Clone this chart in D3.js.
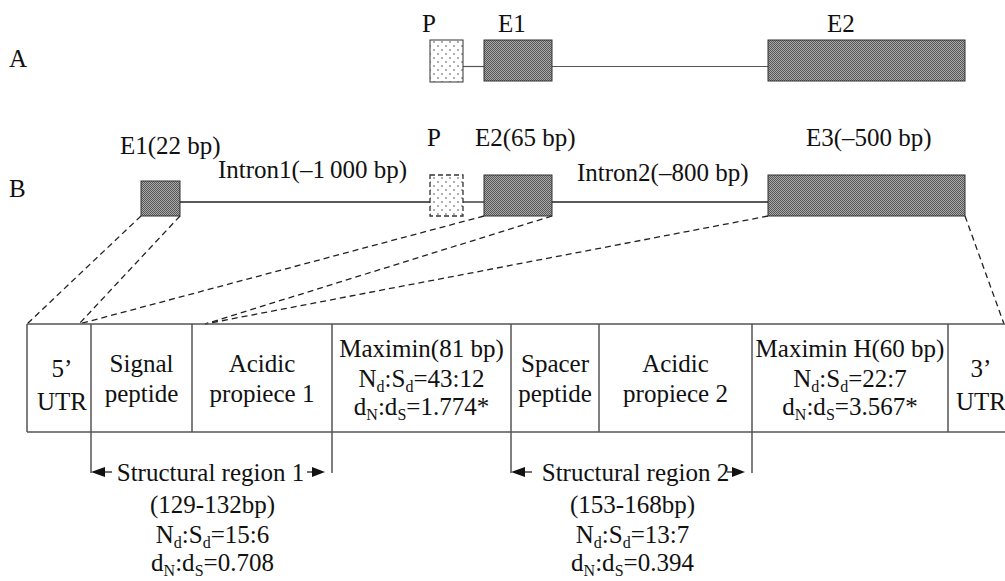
<!DOCTYPE html>
<html><head><meta charset="utf-8">
<script src="https://cdn.jsdelivr.net/npm/d3@7"></script>
<style>
html,body{margin:0;padding:0;background:#fff;}
svg{display:block;}
text{font-family:"Liberation Serif","Times New Roman",serif;fill:#111;}
</style>
</head><body>
<svg id="chart" width="1005" height="581"></svg>
<script>
// ---------- data (map units) ----------
const rowLabels = ["A", "B"];
// Gene A
const geneANames = ["P", "E1", "E2"];
const geneAStart = [430, 484, 768];
const geneAEnd   = [463, 552, 965];
const geneAType  = ["promoter", "exon", "exon"];
// Gene B
const geneBNames = ["E1(22 bp)", "P", "E2(65 bp)", "E3(–500 bp)"];
const geneBStart = [141, 430, 484, 768];
const geneBEnd   = [180, 463, 552, 965];
const geneBType  = ["exon", "promoterDashed", "exon", "exon"];
const intronNames = ["Intron1(–1\u2009000 bp)", "Intron2(–800 bp)"];
// transcript / precursor segments
const segmentLabels = [
  ["5’", "UTR"],
  ["Signal", "peptide"],
  ["Acidic", "propiece 1"],
  ["Maximin(81 bp)", "N_d:S_d=43:12", "d_N:d_S=1.774*"],
  ["Spacer", "peptide"],
  ["Acidic", "propiece 2"],
  ["Maximin H(60 bp)", "N_d:S_d=22:7", "d_N:d_S=3.567*"],
  ["3’", "UTR"]
];
const segmentBounds = [27, 91, 192, 332, 511, 599, 752, 948, 1015];
// mapping exon edges -> segment boundaries
const mapFrom = [141, 180, 484, 552, 768, 965];
const mapTo   = [27, 79, 79, 205, 205, 1004];
// structural regions
const regionNames = ["Structural region 1", "Structural region 2"];
const regionStart = [91, 511];
const regionEnd   = [332, 752];
const regionStats = [
  ["(129-132bp)", "N_d:S_d=15:6", "d_N:d_S=0.708"],
  ["(153-168bp)", "N_d:S_d=13:7", "d_N:d_S=0.394"]
];

// ---------- drawing ----------
const svg = d3.select("#chart");
const x = d3.scaleLinear().domain([0, 1005]).range([0, 1005]);
const FS = 25;

const defs = svg.append("defs");
const pat = defs.append("pattern").attr("id", "exonFill").attr("patternUnits", "userSpaceOnUse")
  .attr("width", 2).attr("height", 2);
pat.append("rect").attr("width", 2).attr("height", 2).attr("fill", "#ababab");
pat.append("rect").attr("width", 1).attr("height", 1).attr("fill", "#555");
pat.append("rect").attr("x", 1).attr("y", 1).attr("width", 1).attr("height", 1).attr("fill", "#555");

const dp = defs.append("pattern").attr("id", "dotFill").attr("patternUnits", "userSpaceOnUse")
  .attr("width", 8).attr("height", 8);
dp.append("rect").attr("width", 8).attr("height", 8).attr("fill", "#fff");
dp.append("circle").attr("cx", 2).attr("cy", 2).attr("r", 0.7).attr("fill", "#222");
dp.append("circle").attr("cx", 6).attr("cy", 6).attr("r", 0.7).attr("fill", "#222");

// helper for text with subscripts ("_x" marks subscript char)
function richText(sel, str, size) {
  const parts = [];
  let i = 0, buf = "";
  while (i < str.length) {
    if (str[i] === "_" && i + 1 < str.length) {
      if (buf) parts.push({t: buf, sub: false});
      buf = "";
      parts.push({t: str[i + 1], sub: true});
      i += 2;
    } else { buf += str[i]; i++; }
  }
  if (buf) parts.push({t: buf, sub: false});
  let shifted = false;
  parts.forEach(p => {
    const ts = sel.append("tspan").text(p.t);
    if (p.sub) {
      ts.attr("font-size", size * 0.64).attr("dy", shifted ? 0 : 5);
      shifted = true;
    } else {
      if (shifted) ts.attr("dy", -5);
      shifted = false;
    }
  });
}

// row labels
svg.selectAll("text.row").data(rowLabels).join("text")
  .attr("class", "row").attr("x", 9).attr("y", (d, i) => [67, 197][i])
  .attr("font-size", FS).text(d => d);

// Gene A
const yA = 40, hA = 41, lineA = 66.5;
svg.append("line").attr("x1", x(geneAEnd[0])).attr("x2", x(geneAStart[1])).attr("y1", lineA).attr("y2", lineA)
  .attr("stroke", "#555").attr("stroke-width", 1.2);
svg.append("line").attr("x1", x(geneAEnd[1])).attr("x2", x(geneAStart[2])).attr("y1", lineA).attr("y2", lineA)
  .attr("stroke", "#555").attr("stroke-width", 1.2);
geneANames.forEach((n, i) => {
  const prom = geneAType[i] === "promoter";
  svg.append("rect").attr("x", x(geneAStart[i])).attr("y", yA)
    .attr("width", x(geneAEnd[i]) - x(geneAStart[i])).attr("height", prom ? 42 : hA)
    .attr("fill", prom ? "url(#dotFill)" : "url(#exonFill)")
    .attr("stroke", "#333").attr("stroke-width", 1);
});
const aLabelX = [422, 498, 827];
geneANames.forEach((n, i) => {
  svg.append("text").attr("x", aLabelX[i]).attr("y", 32).attr("font-size", FS).text(n);
});

// Gene B
const lineB = 202;
const bIntronPairs = [[0, 1], [1, 2], [2, 3]];
bIntronPairs.forEach(([a, b]) => {
  svg.append("line").attr("x1", x(geneBEnd[a])).attr("x2", x(geneBStart[b])).attr("y1", lineB).attr("y2", lineB)
    .attr("stroke", "#222").attr("stroke-width", 1.3);
});
geneBNames.forEach((n, i) => {
  const t = geneBType[i];
  const top = i === 0 ? 181 : 175;
  svg.append("rect").attr("x", x(geneBStart[i])).attr("y", top)
    .attr("width", x(geneBEnd[i]) - x(geneBStart[i])).attr("height", 216 - top)
    .attr("fill", t === "exon" ? "url(#exonFill)" : "url(#dotFill)")
    .attr("stroke", "#333").attr("stroke-width", t === "exon" ? 1 : 1.3)
    .attr("stroke-dasharray", t === "exon" ? null : "5,3");
});
const bLabelX = [120, 427, 475, 806];
const bLabelY = [154, 146, 146, 146];
geneBNames.forEach((n, i) => {
  svg.append("text").attr("x", bLabelX[i]).attr("y", bLabelY[i]).attr("font-size", FS).text(n);
});
const intronX = [218, 577], intronY = [178, 181];
intronNames.forEach((n, i) => {
  svg.append("text").attr("x", intronX[i]).attr("y", intronY[i]).attr("font-size", FS).text(n);
});

// mapping dashed lines
const tTop = 324, tBot = 432;
mapFrom.forEach((f, i) => {
  svg.append("line").attr("x1", x(f)).attr("y1", 216).attr("x2", x(mapTo[i])).attr("y2", tTop)
    .attr("stroke", "#222").attr("stroke-width", 1.3).attr("stroke-dasharray", "6,4");
});

// table
const tbl = svg.append("g").attr("stroke", "#555").attr("stroke-width", 1.5);
tbl.append("line").attr("x1", x(27)).attr("x2", 1005).attr("y1", tTop).attr("y2", tTop);
tbl.append("line").attr("x1", x(27)).attr("x2", 1005).attr("y1", tBot).attr("y2", tBot);
segmentBounds.slice(0, -1).forEach(b => {
  tbl.append("line").attr("x1", x(b)).attr("x2", x(b)).attr("y1", tTop).attr("y2", tBot);
});

segmentLabels.forEach((lines, i) => {
  const mid = (x(segmentBounds[i]) + x(segmentBounds[i + 1])) / 2;
  let ys;
  if (lines.length === 3) ys = [357, 387, 415];
  else if (lines[1] === "UTR") ys = [377, 410];
  else ys = [372, 402];
  lines.forEach((ln, j) => {
    let cx = mid;
    if (lines[1] === "UTR") cx = i === 0 ? mid + 3 : 981;
    const t = svg.append("text").attr("x", cx).attr("y", ys[j]).attr("font-size", FS).attr("text-anchor", "middle");
    richText(t, ln, FS);
  });
});

// structural region brackets
regionNames.forEach((n, i) => {
  const a = x(regionStart[i]), b = x(regionEnd[i]);
  const ay = 472;
  const g = svg.append("g");
  g.append("line").attr("x1", a).attr("x2", a).attr("y1", tBot).attr("y2", ay + 1).attr("stroke", "#555").attr("stroke-width", 1.5);
  g.append("line").attr("x1", b).attr("x2", b).attr("y1", tBot).attr("y2", ay + 1).attr("stroke", "#555").attr("stroke-width", 1.5);
  g.append("path").attr("d", `M${a},${ay} L${a + 14},${ay - 5} L${a + 14},${ay + 5} Z`).attr("fill", "#111");
  g.append("line").attr("x1", a + 14).attr("x2", a + 21).attr("y1", ay).attr("y2", ay).attr("stroke", "#111").attr("stroke-width", 1.2);
  g.append("path").attr("d", `M${b - 7},${ay} L${b - 20},${ay - 5} L${b - 20},${ay + 5} Z`).attr("fill", "#111");
  g.append("line").attr("x1", b - 25).attr("x2", b - 20).attr("y1", ay).attr("y2", ay).attr("stroke", "#111").attr("stroke-width", 1.2);
  const cx = (a + b) / 2 + (i === 0 ? -1 : 4);
  g.append("text").attr("x", cx).attr("y", 481).attr("font-size", FS).attr("text-anchor", "middle").text(n);
  const sy = [513, 543, 571];
  regionStats[i].forEach((ln, j) => {
    const t = g.append("text").attr("x", (a + b) / 2 + 1).attr("y", sy[j]).attr("font-size", FS).attr("text-anchor", "middle");
    richText(t, ln, FS);
  });
});
</script>
</body></html>
